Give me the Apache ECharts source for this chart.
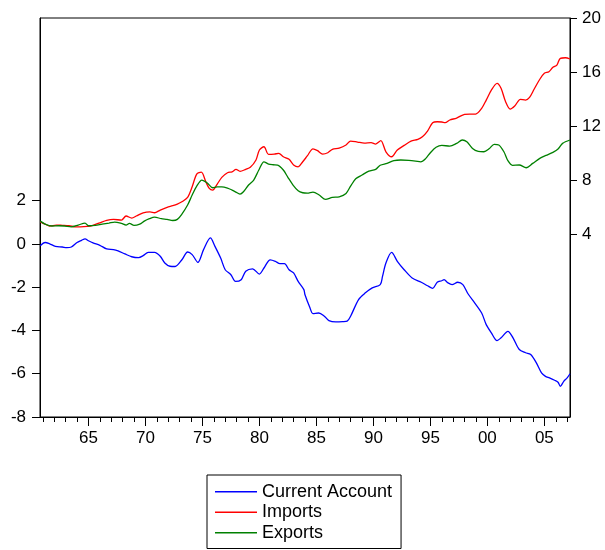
<!DOCTYPE html>
<html>
<head>
<meta charset="utf-8">
<script src="https://cdn.jsdelivr.net/npm/echarts@6/dist/echarts.min.js"></script>
<style>html,body{margin:0;padding:0;background:#fff}#c{width:605px;height:550px}</style>
</head>
<body>
<div id="c"></div>
<script>
const caYears = [1960.77,1961.2,1961.6,1962.1,1962.7,1963.1,1963.5,1964.0,1964.4,1964.7,1965.0,1965.4,1966.0,1966.6,1967.2,1967.6,1968.2,1968.8,1969.4,1969.8,1970.25,1970.8,1971.3,1971.7,1972.15,1972.6,1973.2,1973.7,1974.1,1974.6,1975.1,1975.7,1976.1,1976.6,1977.0,1977.5,1977.9,1978.4,1978.8,1979.4,1980.0,1980.4,1980.95,1981.4,1981.8,1982.2,1982.6,1983.0,1983.4,1983.9,1984.0,1984.4,1984.7,1985.2,1985.7,1986.1,1986.7,1987.3,1987.7,1988.0,1988.7,1989.3,1989.9,1990.6,1990.8,1991.1,1991.6,1992.1,1992.7,1993.4,1994.2,1994.75,1995.2,1995.6,1996.0,1996.2,1996.55,1996.9,1997.4,1997.85,1998.3,1998.9,1999.5,1999.9,2000.35,2000.85,2001.2,2001.8,2002.25,2002.8,2003.35,2003.8,2004.3,2004.75,2005.1,2005.45,2005.9,2006.2,2006.4,2006.7,2007.0,2007.25];
const caValues = [-0.08,0.07,0.01,-0.11,-0.14,-0.17,-0.14,0.07,0.17,0.24,0.15,0.05,-0.06,-0.23,-0.26,-0.32,-0.46,-0.59,-0.63,-0.54,-0.39,-0.39,-0.57,-0.88,-1.03,-1.04,-0.73,-0.37,-0.49,-0.85,-0.26,0.28,-0.11,-0.65,-1.19,-1.42,-1.73,-1.65,-1.26,-1.15,-1.39,-1.11,-0.73,-0.80,-0.91,-0.91,-1.19,-1.34,-1.73,-2.11,-2.35,-2.9,-3.22,-3.19,-3.34,-3.54,-3.60,-3.59,-3.57,-3.34,-2.57,-2.26,-2.03,-1.88,-1.50,-0.88,-0.39,-0.80,-1.19,-1.57,-1.77,-1.93,-2.05,-1.77,-1.70,-1.65,-1.80,-1.88,-1.77,-1.88,-2.30,-2.73,-3.19,-3.73,-4.11,-4.47,-4.34,-4.04,-4.34,-4.88,-5.03,-5.11,-5.50,-5.96,-6.12,-6.19,-6.30,-6.39,-6.58,-6.35,-6.19,-6.0];

const impYears = [1960.77,1961.2,1961.6,1962.2,1962.7,1963.3,1963.9,1964.3,1964.9,1965.4,1966.0,1966.6,1967.2,1967.9,1968.3,1968.8,1969.2,1969.8,1970.4,1970.8,1971.3,1971.9,1972.4,1972.8,1973.2,1973.7,1974.1,1974.5,1974.9,1975.3,1975.6,1975.9,1976.3,1976.7,1977.2,1977.6,1977.95,1978.3,1978.8,1979.2,1979.7,1980.0,1980.4,1980.8,1981.3,1981.7,1982.1,1982.6,1983.0,1983.4,1983.8,1984.2,1984.7,1985.1,1985.55,1986.0,1986.4,1987.0,1987.6,1988.0,1988.6,1989.2,1989.8,1990.2,1990.65,1991.1,1991.6,1992.1,1992.7,1993.3,1993.9,1994.3,1994.75,1995.2,1995.6,1996.0,1996.3,1996.7,1997.3,1998.0,1998.45,1998.97,1999.5,1999.9,2000.35,2000.85,2001.2,2001.6,2002.0,2002.4,2002.9,2003.35,2003.7,2004.1,2004.6,2005.0,2005.4,2005.75,2006.1,2006.4,2006.85,2007.25];
const impValues = [4.93,4.76,4.62,4.69,4.67,4.64,4.56,4.56,4.59,4.67,4.86,5.04,5.11,5.06,5.36,5.21,5.36,5.60,5.67,5.60,5.80,6.0,6.12,6.24,6.41,6.74,7.52,8.46,8.61,7.89,7.40,7.28,7.72,8.22,8.56,8.63,8.81,8.66,8.81,8.96,9.50,10.24,10.48,9.92,9.94,9.99,9.74,9.55,9.13,9.0,9.37,9.8,10.33,10.19,9.94,10.04,10.29,10.38,10.61,10.90,10.83,10.75,10.78,10.68,10.93,10.11,9.74,10.24,10.58,10.90,11.03,11.22,11.64,12.26,12.33,12.31,12.26,12.46,12.60,12.88,12.90,12.90,13.32,13.93,14.67,15.17,14.80,13.81,13.27,13.49,13.99,13.93,14.13,14.73,15.47,15.91,16.03,16.35,16.52,17.02,17.06,16.97];

const expYears = [1960.77,1961.2,1961.8,1962.4,1962.9,1963.5,1964.1,1964.7,1965.0,1965.6,1966.2,1966.8,1967.3,1967.9,1968.3,1968.6,1969.0,1969.5,1969.9,1970.35,1970.8,1971.4,1971.9,1972.4,1972.8,1973.2,1973.7,1974.1,1974.5,1974.95,1975.4,1975.9,1976.3,1976.7,1977.2,1977.6,1978.05,1978.3,1978.6,1979.05,1979.5,1979.95,1980.4,1980.8,1981.2,1981.6,1982.1,1982.5,1982.95,1983.4,1983.8,1984.2,1984.7,1985.25,1985.8,1986.4,1987.0,1987.6,1988.0,1988.45,1989.0,1989.6,1990.2,1990.6,1991.2,1991.8,1992.4,1993.1,1993.7,1994.15,1994.6,1995.0,1995.5,1996.0,1996.7,1997.3,1997.8,1998.2,1998.7,1999.2,1999.7,2000.15,2000.6,2001.0,2001.45,2001.8,2002.2,2002.8,2003.4,2003.98,2004.6,2005.15,2005.75,2006.2,2006.6,2007.25];
const expValues = [4.98,4.76,4.62,4.64,4.62,4.56,4.69,4.84,4.64,4.67,4.76,4.84,4.91,4.81,4.69,4.81,4.67,4.76,4.98,5.16,5.28,5.16,5.11,5.03,5.11,5.50,6.17,6.91,7.57,8.02,7.82,7.45,7.52,7.52,7.43,7.28,7.08,6.98,7.15,7.65,8.02,8.76,9.37,9.20,9.15,9.13,8.76,8.22,7.65,7.23,7.08,7.05,7.13,6.91,6.59,6.74,6.78,7.03,7.57,8.11,8.39,8.68,8.81,9.11,9.25,9.45,9.50,9.47,9.42,9.37,9.62,10.04,10.44,10.58,10.53,10.73,10.98,10.85,10.36,10.14,10.11,10.33,10.66,10.61,10.11,9.45,9.11,9.13,8.93,9.25,9.62,9.84,10.07,10.31,10.73,10.98];

const yearTicks = [];
for (let y = 1961; y <= 2007; y++) yearTicks.push(y);
const xLabelYears = [1965,1970,1975,1980,1985,1990,1995,2000,2005];
const leftTicks = [-8,-6,-4,-2,0,2];
const rightTicks = [4,8,12,16,20];

const zip = (a, b) => a.map((v, i) => [v, b[i]]);
const FONT = '"Liberation Sans", Arial, sans-serif';

const chart = echarts.init(document.getElementById('c'), null, {renderer: 'canvas'});
chart.setOption({
  animation: false,
  backgroundColor: '#fff',
  grid: {left: 40, top: 18, width: 530, height: 399, show: true, borderColor: '#000', borderWidth: 1, containLabel: false},
  xAxis: [{
    type: 'value', min: 1960.75, max: 2007.25, position: 'bottom',
    splitLine: {show: false},
    axisLine: {show: true, onZero: false, lineStyle: {color: '#000', width: 1}},
    axisTick: {show: true, customValues: yearTicks, length: 5, lineStyle: {color: '#000'}},
    axisLabel: {customValues: xLabelYears, margin: 13, color: '#000', fontSize: 17, fontFamily: FONT,
      formatter: v => String(Math.round(v) % 100).padStart(2, '0')}
  }, {
    type: 'value', min: 1960.75, max: 2007.25, position: 'bottom',
    splitLine: {show: false},
    axisLine: {show: false, onZero: false},
    axisTick: {show: true, customValues: xLabelYears, length: 9, lineStyle: {color: '#000'}},
    axisLabel: {show: false}
  }],
  yAxis: [{
    type: 'value', min: -8, max: 10.45, position: 'left',
    splitLine: {show: false},
    axisLine: {show: true, onZero: false, lineStyle: {color: '#000'}},
    axisTick: {show: true, customValues: leftTicks, length: 8, lineStyle: {color: '#000'}},
    axisLabel: {customValues: leftTicks, margin: 14, color: '#000', fontSize: 17, fontFamily: FONT}
  }, {
    type: 'value', min: -9.5, max: 20, position: 'right',
    splitLine: {show: false},
    axisLine: {show: true, onZero: false, lineStyle: {color: '#000'}},
    axisTick: {show: true, customValues: rightTicks, length: 7, lineStyle: {color: '#000'}},
    axisLabel: {customValues: rightTicks, margin: 12, color: '#000', fontSize: 17, fontFamily: FONT}
  }],
  legend: {
    orient: 'vertical', left: 207, top: 475,
    padding: [6.5, 9, 5.5, 8],
    borderColor: '#000', borderWidth: 1,
    icon: 'rect',
    itemWidth: 42, itemHeight: 1.5, itemGap: 0,
    textStyle: {color: '#000', fontSize: 18, fontFamily: FONT, lineHeight: 20.5},
    data: ['Current Account', 'Imports', 'Exports']
  },
  series: [
    {name: 'Current Account', type: 'line', xAxisIndex: 0, yAxisIndex: 0, data: zip(caYears, caValues),
      symbol: 'none', smooth: 0.3, lineStyle: {color: '#0000ff', width: 1.3}, itemStyle: {color: '#0000ff'}},
    {name: 'Imports', type: 'line', xAxisIndex: 0, yAxisIndex: 1, data: zip(impYears, impValues),
      symbol: 'none', smooth: 0.3, lineStyle: {color: '#ff0000', width: 1.3}, itemStyle: {color: '#ff0000'}},
    {name: 'Exports', type: 'line', xAxisIndex: 0, yAxisIndex: 1, data: zip(expYears, expValues),
      symbol: 'none', smooth: 0.3, lineStyle: {color: '#008000', width: 1.3}, itemStyle: {color: '#008000'}}
  ]
});
</script>
</body>
</html>
